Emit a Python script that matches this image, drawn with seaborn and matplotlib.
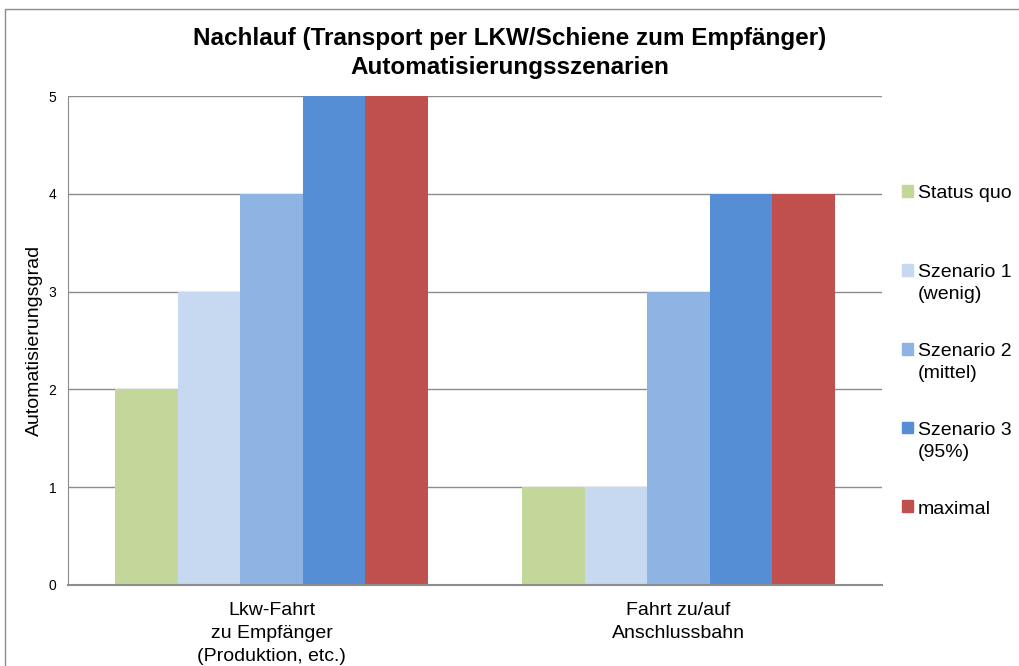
import matplotlib
matplotlib.use("Agg")
import matplotlib.pyplot as plt
import matplotlib.patches as mpatches
from matplotlib.legend_handler import HandlerPatch
import pandas as pd
import seaborn as sns

kategorien = ["Lkw-Fahrt\nzu Empfänger\n(Produktion, etc.)", "Fahrt zu/auf\nAnschlussbahn"]
szenarien = ["Status quo", "Szenario 1\n(wenig)", "Szenario 2\n(mittel)", "Szenario 3\n(95%)", "maximal"]
werte_lkw = [2, 3, 4, 5, 5]
werte_bahn = [1, 1, 3, 4, 4]
farben = ["#C4D79B", "#C6D9F1", "#8DB4E2", "#558ED5", "#C0504D"]

rows = []
for k, werte in zip(kategorien, [werte_lkw, werte_bahn]):
    for s, v in zip(szenarien, werte):
        rows.append({"Kategorie": k, "Szenario": s, "Wert": v})
df = pd.DataFrame(rows)

sns.set_style("white")
plt.rcParams["font.family"] = ["Liberation Sans", "DejaVu Sans"]
plt.rcParams["text.color"] = "black"
plt.rcParams["axes.labelcolor"] = "black"

fig = plt.figure(figsize=(10.19, 6.66), dpi=100)
ax = fig.add_axes([68 / 1019, 1 - 585 / 666, (882 - 68) / 1019, (585 - 96) / 666])

sns.barplot(data=df, x="Kategorie", y="Wert", hue="Szenario", order=kategorien,
            hue_order=szenarien, palette=farben, saturation=1, width=0.767,
            gap=0, linewidth=0, ax=ax, legend=False)

ax.set_ylim(0, 5)
ax.set_yticks([0, 1, 2, 3, 4, 5])
ax.yaxis.grid(True, color="#8c8c8c", linewidth=1)
ax.set_axisbelow(True)
for side in ["top", "right"]:
    ax.spines[side].set_visible(False)
ax.spines["left"].set_color("#8c8c8c")
ax.spines["bottom"].set_color("#8c8c8c")
ax.spines["bottom"].set_linewidth(1.5)
ax.tick_params(axis="y", length=2.5, color="#8c8c8c", labelcolor="black", labelsize=10, pad=6)
ax.tick_params(axis="x", length=0, labelcolor="black", labelsize=14, pad=12.5)
for t in ax.get_xticklabels():
    t.set_linespacing(1.45)
ax.set_xlabel("")
ax.set_ylabel("Automatisierungsgrad", fontsize=14)
ax.yaxis.set_label_coords(-0.031, 0.5)

fig.suptitle("Nachlauf (Transport per LKW/Schiene zum Empfänger)\nAutomatisierungsszenarien",
             fontsize=17.5, fontweight="bold", x=510 / 1019, y=1 - 27 / 666, va="top",
             linespacing=1.36)

# Excel-Legende: Marker auf Höhe der ersten Zeile, gleich hohe Einträge
zeile = 9.7


def oben_patch(legend, orig_handle, xdescent, ydescent, width, height, fontsize):
    return mpatches.Rectangle((-xdescent, -ydescent + zeile), width, height)


handles = [mpatches.Patch(color=c) for c in farben]
labels = [s if "\n" in s else s + "\n" for s in szenarien]
leg = fig.legend(handles, labels, loc="upper left", bbox_to_anchor=(902 / 1019, 1 - 185 / 666),
                 frameon=False, fontsize=14, labelspacing=2.05, handlelength=0.57,
                 handleheight=0.57, handletextpad=0.25, borderpad=0, borderaxespad=0,
                 handler_map={mpatches.Patch: HandlerPatch(patch_func=oben_patch)})
for t in leg.get_texts():
    t.set_linespacing(1.39)

border = mpatches.Rectangle((5 / 1019, -0.1), 1.2, 1 - 9 / 666 + 0.1, transform=fig.transFigure,
                            fill=False, edgecolor="#8c8c8c", linewidth=1)
fig.patches.append(border)

fig.savefig("out.png", dpi=100)
